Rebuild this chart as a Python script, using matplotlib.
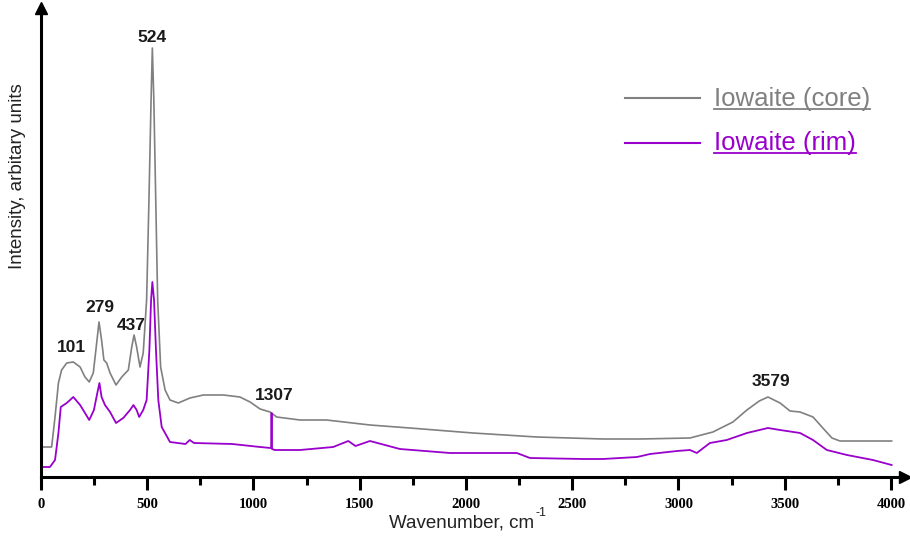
#!/usr/bin/env python3

import matplotlib
matplotlib.use("Agg")
import matplotlib.pyplot as plt
from matplotlib.lines import Line2D

# Raman spectra: wavenumber [cm-1], intensity [arb.]
core_wn = [0, 50, 66, 82, 97, 121, 152, 184, 207, 227, 246, 262, 273, 285,
           296, 309, 325, 353, 380, 411, 427, 438, 450, 466, 481, 497, 508,
           518, 524, 531, 540, 549, 563, 584, 607, 646, 701, 764, 858, 936,
           984, 1031, 1078, 1109, 1219, 1344, 1548, 1736, 2033, 2333, 2645,
           2819, 3054, 3162, 3256, 3322, 3380, 3421, 3478, 3525, 3572, 3633,
           3675, 3722, 3760, 4003]
core_int = [30, 30, 60, 94, 107, 114, 115, 110, 100, 95, 104, 134, 155, 137,
            117, 114, 104, 92, 100, 107, 130, 142, 130, 110, 124, 177, 277,
            377, 429, 377, 277, 177, 110, 87, 77, 74, 79, 82, 82, 80,
            75, 68, 65, 60, 57, 57, 52, 49, 44, 40, 38,
            38, 39, 45, 55, 67, 76, 80, 74, 66, 65, 60,
            50, 39, 36, 36]

rim_wn = [0, 42, 66, 82, 93, 121, 152, 184, 207, 227, 249, 265, 275, 285,
          301, 325, 353, 387, 419, 435, 450, 462, 481, 497, 510, 518, 524,
          532, 541, 552, 568, 607, 680, 700, 720, 900, 1031, 1080, 1083,
          1085, 1087, 1100, 1219, 1375, 1446, 1480, 1548, 1689, 1925, 2239,
          2301, 2551, 2645, 2805, 2866, 2993, 3054, 3086, 3148, 3227, 3322,
          3421, 3478, 3572, 3633, 3698, 3793, 3915, 4003]
rim_int = [10, 10, 17, 44, 70, 74, 80, 72, 64, 57, 67, 84, 94, 80,
           72, 65, 54, 59, 67, 72, 67, 60, 67, 77, 127, 177, 195,
           177, 127, 77, 50, 35, 33, 37, 34, 33, 30, 29, 29,
           64, 28, 27, 27, 30, 36, 31, 36, 28, 24, 24,
           19, 18, 18, 20, 23, 26, 27, 24, 34, 37, 44,
           49, 47, 44, 37, 27, 22, 17, 12]

# Peak annotations
peak_labels = ["101", "279", "437", "524", "1307", "3579"]
peak_wn = [143, 276, 423, 522, 1096, 3435]
peak_int = [129, 169, 151, 439, 82, 95]

series_names = ["Iowaite (core)", "Iowaite (rim)"]
series_colors = ["#808080", "#9900cc"]

W, H = 910, 542


def fx(px):
    return px / W


def fy(py):
    return 1 - py / H


def main():
    plt.rcParams["font.family"] = ["Liberation Sans", "DejaVu Sans"]

    fig = plt.figure(figsize=(W / 100, H / 100), dpi=100)
    # axes from x=41px to arrow tip ~905px, y axis from 477px up to 8px
    ax = fig.add_axes([fx(41), fy(477), (905 - 41) / W, (477 - 8) / H])

    ax.plot(core_wn, core_int, color=series_colors[0], lw=1.2)
    ax.plot(rim_wn, rim_int, color=series_colors[1], lw=1.3)

    ax.set_xlim(0, 4000 * (905 - 41) / 850)
    ax.set_ylim(0, 469)

    for s in ["top", "right"]:
        ax.spines[s].set_visible(False)
    for s in ["left", "bottom"]:
        ax.spines[s].set_linewidth(2.2)

    # axis arrows
    ax.plot([1], [0], marker=">", ms=9, color="black", transform=ax.transAxes,
            clip_on=False)
    ax.plot([0], [1], marker="^", ms=9, color="black", transform=ax.transAxes,
            clip_on=False)

    ax.set_xticks(range(0, 4001, 500))
    ax.set_xticks(range(250, 4000, 500), minor=True)
    ax.set_yticks([])
    ax.tick_params(axis="x", which="major", length=9, width=2.2, pad=6)
    ax.tick_params(axis="x", which="minor", length=6, width=2.2)
    for lbl in ax.get_xticklabels():
        lbl.set_family("Liberation Serif")
        lbl.set_fontweight("bold")
        lbl.set_fontsize(10.5)

    for t, x, y in zip(peak_labels, peak_wn, peak_int):
        ax.text(x, y, t, ha="center", va="center", fontsize=12.5,
                fontweight="bold", color="#1a1a1a")

    xl = fig.text(fx(462), fy(523), "Wavenumber, cm", ha="center",
                  va="center", fontsize=13.5, color="#222222")
    fig.text(fx(18), fy(176), "Intensity, arbitary units", ha="center",
             va="center", rotation=90, fontsize=13.5, color="#222222")

    # legend with underlined labels
    line_y = [98, 143]
    base_y = [106, 150]
    texts = []
    for name, col, ly, by in zip(series_names, series_colors, line_y, base_y):
        fig.add_artist(Line2D([fx(625), fx(700)], [fy(ly), fy(ly)],
                              color=col, lw=1.5))
        texts.append(fig.text(fx(714), fy(by), name, ha="left", va="baseline",
                              fontsize=18.5, color=col))

    fig.canvas.draw()
    r = fig.canvas.get_renderer()
    for t, col, by in zip(texts, series_colors, base_y):
        bb = t.get_window_extent(r)
        fig.add_artist(Line2D([bb.x0 / W, bb.x1 / W],
                              [fy(by + 3), fy(by + 3)], color=col, lw=1.3))

    # superscript -1 after cm
    bb = xl.get_window_extent(r)
    fig.text(bb.x1 / W + 0.001, fy(513), "-1", ha="left", va="center",
             fontsize=9, color="#222222")

    fig.savefig("out.png", dpi=100)


if __name__ == "__main__":
    main()
